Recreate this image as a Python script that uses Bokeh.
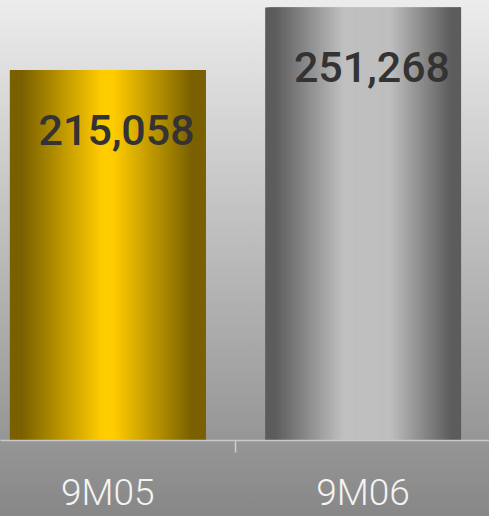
import numpy as np
from bokeh.plotting import figure
from bokeh.models import FixedTicker, ColumnDataSource, Range1d, GlobalInlineStyleSheet
from bokeh.core.properties import value
from bokeh.embed import file_html
from bokeh.resources import INLINE

# ---- data ----
categories = ["9M05", "9M06"]
values = [215058, 251268]
value_labels = ["215,058", "251,268"]

# ---- styling ----
W, H = 489, 516
BAR_W = 0.767
N_SLICES = 90
gold_stops = [(0.0, (122, 96, 0)), (0.06, (122, 96, 0)), (0.47, (255, 204, 0)),
              (0.53, (255, 204, 0)), (0.93, (122, 96, 0)), (1.0, (122, 96, 0))]
grey_stops = [(0.0, (92, 92, 92)), (0.05, (92, 92, 92)), (0.40, (192, 192, 192)),
              (0.64, (190, 190, 190)), (0.95, (92, 92, 92)), (1.0, (92, 92, 92))]
bar_stops = [gold_stops, grey_stops]


def interp_color(stops, t):
    pos = [s[0] for s in stops]
    rgb = [np.interp(t, pos, [s[1][c] for s in stops]) for c in range(3)]
    return "#%02x%02x%02x" % tuple(int(round(v)) for v in rgb)


p = figure(width=W, height=H, output_backend="svg", toolbar_location=None,
           x_range=Range1d(-0.42, 1.495), y_range=Range1d(0, 255330),
           min_border_left=0, min_border_right=0, min_border_top=0,
           min_border_bottom=76)
p.styles = {"background": "linear-gradient(to bottom, #ececec 0%, #878787 100%)"}
p.stylesheets = [GlobalInlineStyleSheet(css="html,body{margin:0;padding:0;overflow:hidden;}")]
p.border_fill_color = None
p.background_fill_color = None
p.outline_line_color = None
p.xgrid.visible = False
p.ygrid.visible = False
p.yaxis.visible = False

# bars drawn as overlapping thin vertical slices to imitate the cylinder gradient
lefts, rights, tops, colors = [], [], [], []
for i, v in enumerate(values):
    x0 = i - BAR_W / 2
    sw = BAR_W / N_SLICES
    for k in range(N_SLICES):
        t = (k + 0.5) / N_SLICES
        lefts.append(x0 + k * sw)
        rights.append(min(x0 + (k + 3) * sw, x0 + BAR_W))
        tops.append(v)
        colors.append(interp_color(bar_stops[i], t))
src = ColumnDataSource(dict(left=lefts, right=rights, top=tops, bottom=[0] * len(tops), color=colors))
p.quad(left="left", right="right", top="top", bottom="bottom", fill_color="color",
       line_color=None, source=src)

# value labels inside the bars
lsrc = ColumnDataSource(dict(x=[i + BAR_W / 2 for i in range(len(values))], y=values, text=value_labels))
p.text(x="x", y="y", text="text", source=lsrc, text_align="right", text_baseline="alphabetic",
       x_offset=-11, y_offset=60, text_font=value("Roboto Medium"), text_font_size="43px",
       text_color="#333333")

# category axis
ax = p.xaxis[0]
ax.ticker = FixedTicker(ticks=list(range(len(categories))), minor_ticks=[0.5])
ax.major_label_overrides = {i: c for i, c in enumerate(categories)}
ax.axis_line_color = "#c8c8c8"
ax.axis_line_width = 1.5
ax.major_tick_line_color = None
ax.major_tick_out = 0
ax.major_tick_in = 0
ax.minor_tick_line_color = "#cfcfcf"
ax.minor_tick_line_width = 1.5
ax.minor_tick_out = 12
ax.minor_tick_in = 0
ax.major_label_text_font = "Roboto Light"
ax.major_label_text_font_size = "37px"
ax.major_label_text_color = "#f4f4f4"
ax.major_label_standoff = 18

open("out.html", "w").write(file_html(p, INLINE))
